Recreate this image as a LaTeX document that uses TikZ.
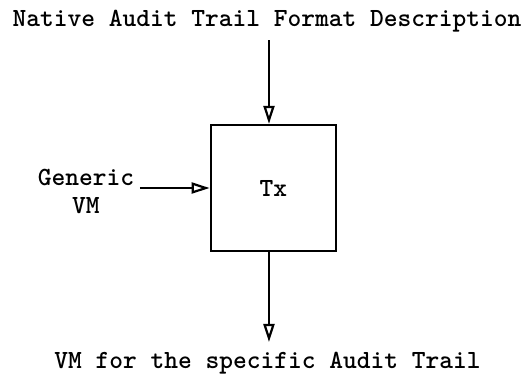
\documentclass[tikz,border=0pt]{standalone}
\usepackage{fontspec}
\usetikzlibrary{arrows.meta}

\begin{document}
\begin{tikzpicture}
      \tikzstyle{blk}=[draw, line width=1.3pt, minimum width=2.2cm, minimum height=2.21cm, inner sep=0pt];
      \tikzstyle{lbl}=[inner sep=0pt, font=\fontsize{13.1}{14}\selectfont\ttfamily\bfseries];
      \tikzstyle{flow}=[line width=1.1pt, -{Triangle[open, length=9pt, width=5.5pt, line width=1.1pt]}];

      \useasboundingbox (0, 0) rectangle (9.261, -6.555);

      % block and labels
      \node[blk, lbl] (tx) at (4.806, -3.304) {Tx};
      \node[lbl, anchor=base] (fmt) at (4.692, -0.457) {Native Audit Trail Format Description};
      \node[lbl, align=center] (gen) at (1.511, -3.36) {Generic\\VM};
      \node[lbl, anchor=base] (out) at (4.701, -6.47) {VM for the specific Audit Trail};

      % free ends of the arrows
      \coordinate (topin) at (4.727, -0.703);
      \coordinate (genin) at (2.460, -3.304);
      \coordinate (botout) at (4.727, -6.010);

      \draw[flow] (topin) -- (topin |- tx.north);
      \draw[flow] (genin) -- (tx.west);
      \draw[flow] (botout |- tx.south) -- (botout);
\end{tikzpicture}
\end{document}
